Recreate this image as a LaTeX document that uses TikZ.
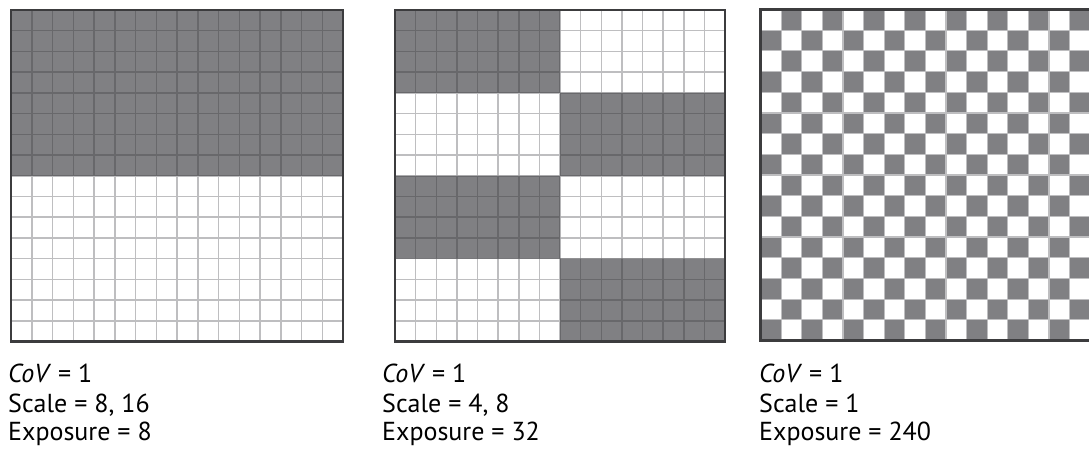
\documentclass[tikz,border=0pt]{standalone}
\usepackage{fontspec}
\setmainfont{PT Sans}
\definecolor{cellgray}{RGB}{128,128,131}
\definecolor{framegray}{RGB}{60,60,62}
\definecolor{lightline}{RGB}{190,190,192}
\definecolor{darkline}{RGB}{104,104,107}
\newcommand\mygrid[5]{%
  \foreach \i in {1,...,15}{%
    \draw[gridline,#5] ({#1+\i*(#3-#1)/16},#2) -- ({#1+\i*(#3-#1)/16},#4);
    \draw[gridline,#5] (#1,{#2+\i*(#4-#2)/16}) -- (#3,{#2+\i*(#4-#2)/16});
  }}
\begin{document}
\begin{tikzpicture}[x=1pt,y=-1pt,
  lbl/.style={anchor=base west, inner sep=0pt, font=\fontsize{26}{30}\selectfont},
  gridline/.style={line width=1.5pt},
  frame/.style={draw=framegray, line width=2.6pt}]
\useasboundingbox (0,0) rectangle (1089,458);
\fill[white] (0,0) rectangle (1089,458);
% ---------- panel 1 ----------
\mygrid{11}{10}{343}{341.5}{lightline}
\fill[cellgray] (11,10) rectangle (343,175.75);
\begin{scope}
  \clip (11,10) rectangle (343,175.75);
  \mygrid{11}{10}{343}{341.5}{darkline}
\end{scope}
\draw[frame] (11,10) rectangle (343,341.5);
% ---------- panel 2 ----------
\mygrid{395}{10}{725}{341.5}{lightline}
\begin{scope}
  \clip (395,10) rectangle (560,92.875)
        (560,92.875) rectangle (725,175.75)
        (395,175.75) rectangle (560,258.625)
        (560,258.625) rectangle (725,341.5);
  \fill[cellgray] (395,10) rectangle (725,341.5);
  \mygrid{395}{10}{725}{341.5}{darkline}
\end{scope}
\draw[frame] (395,10) rectangle (725,341.5);
% ---------- panel 3 ----------
\foreach \r in {0,...,15}{
  \foreach \c in {0,...,15}{
    \pgfmathtruncatemacro\s{mod(\r+\c,2)}
    \ifnum\s=1
      \fill[cellgray] ({760.5+\c*20.6},{9.5+\r*20.69}) rectangle ({760.5+(\c+1)*20.6},{9.5+(\r+1)*20.69});
    \fi
  }}
\mygrid{760.5}{9.5}{1090.1}{340.5}{lightline,line width=1.2pt}
\draw[frame] (760.5,9.5) rectangle (1090.5,340.5);
% ---------- labels ----------
\node[lbl] (a1) at (8,382) {\textit{CoV} = 1};
\node[lbl] (a2) at (8,412) {Scale = 8, 16};
\node[lbl] (a3) at (8,440) {Exposure = 8};
\node[lbl] (b1) at (382,382) {\textit{CoV} = 1};
\node[lbl] (b2) at (382,412) {Scale = 4, 8};
\node[lbl] (b3) at (382,440) {Exposure = 32};
\node[lbl] (c1) at (759,382) {\textit{CoV} = 1};
\node[lbl] (c2) at (759,412) {Scale = 1};
\node[lbl] (c3) at (759,440) {Exposure = 240};
\end{tikzpicture}
\end{document}
